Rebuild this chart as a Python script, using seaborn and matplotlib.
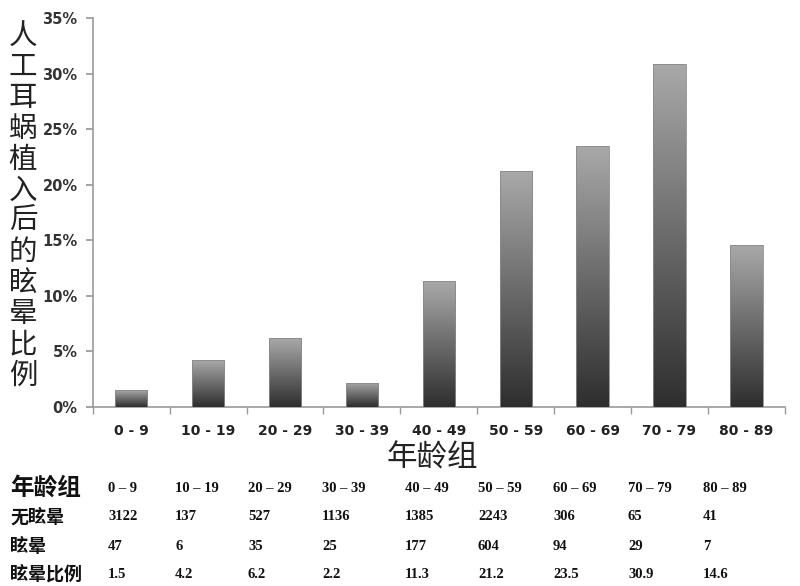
import numpy as np
import pandas as pd
import matplotlib
matplotlib.use("Agg")
import matplotlib.pyplot as plt
import seaborn as sns
from matplotlib.ticker import FuncFormatter
from matplotlib import font_manager

# 数据
age_groups = ["0 - 9", "10 - 19", "20 - 29", "30 - 39", "40 - 49",
              "50 - 59", "60 - 69", "70 - 79", "80 - 89"]
no_vertigo = [3122, 137, 527, 1136, 1385, 2243, 306, 65, 41]
vertigo = [47, 6, 35, 25, 177, 604, 94, 29, 7]
ratio = [1.5, 4.2, 6.2, 2.2, 11.3, 21.2, 23.5, 30.9, 14.6]

df = pd.DataFrame({"age": age_groups, "ratio": [r / 100 for r in ratio]})

sns.set_theme(style="white")
plt.rcParams["font.family"] = ["Noto Sans CJK SC", "DejaVu Sans"]

# 表格数字用窄字体
names = {f.name for f in font_manager.fontManager.ttflist}
if "Liberation Sans Narrow" in names:
    table_font = ["Liberation Sans Narrow"]
    table_kw = dict(fontweight="bold", fontsize=10.5)
else:
    table_font = ["Liberation Serif"]
    table_kw = dict(fontweight="bold", fontsize=10.5)

fig = plt.figure(figsize=(8, 5.86), dpi=100)
ax = fig.add_axes([0.116, 0.3055, 0.865, 0.6635])

sns.barplot(data=df, x="age", y="ratio", color="#555555", width=0.42, ax=ax)

# 渐变填充
grad = np.linspace(0, 1, 256).reshape(-1, 1)
cmap = matplotlib.colors.LinearSegmentedColormap.from_list("g", ["#2e2e2e", "#a9a9a9"])
for p in ax.patches:
    x0, y0 = p.get_x(), p.get_y()
    w, h = p.get_width(), p.get_height()
    im = ax.imshow(grad, cmap=cmap, aspect="auto", origin="lower",
                   extent=[x0, x0 + w, y0, y0 + h], zorder=3)
    im.set_clip_path(p)
    p.set_facecolor("none")
    p.set_edgecolor("#8a8a8a")
    p.set_linewidth(0.6)
    p.set_zorder(4)

ax.set_xlim(-0.5, len(age_groups) - 0.5)
ax.set_ylim(0, 0.35)
ax.set_yticks(np.arange(0, 0.351, 0.05))
ax.yaxis.set_major_formatter(FuncFormatter(lambda v, _: f"{v * 100:.0f}%"))

for s in ["top", "right"]:
    ax.spines[s].set_visible(False)
for s in ["left", "bottom"]:
    ax.spines[s].set_color("#999999")
    ax.spines[s].set_linewidth(1.2)

ax.tick_params(axis="y", left=True, length=5, color="#999999", labelsize=10.5,
               labelcolor="#333333", pad=6)
ax.tick_params(axis="x", bottom=False, labelsize=10, labelcolor="#222222", pad=6)
ax.set_xticks(np.arange(-0.5, len(age_groups), 1), minor=True)
ax.tick_params(axis="x", which="minor", bottom=True, length=5, color="#999999")
for lab in ax.get_yticklabels() + ax.get_xticklabels():
    lab.set_fontweight("bold")
    lab.set_family(["DejaVu Sans"])

ax.set_xlabel("")
ax.set_ylabel("")

# 纵轴标题（竖排，逐字放置）
ylab = "人工耳蜗植入后的眩晕比例"
for k, ch in enumerate(ylab):
    yy = 1 - (36 + k * 30.9) / 586
    fig.text(23 / 800, yy, ch, ha="center", va="center", fontsize=20.5,
             fontweight="light", color="#222222")

# 横轴标题
fig.text(432 / 800, 1 - 458 / 586, "年龄组", ha="center", va="center", fontsize=22,
         fontweight="light", color="#222222")

# 表格
row_titles = ["年龄组", "无眩晕", "眩晕", "眩晕比例"]
rows = [age_groups,
        [str(v) for v in no_vertigo],
        [str(v) for v in vertigo],
        [f"{v:.1f}" for v in ratio]]
row_y = [488, 517, 546, 574]
col_x = [108, 175, 248, 322, 405, 478, 553, 628, 703]
for i, (title, vals) in enumerate(zip(row_titles, rows)):
    yy = 1 - row_y[i] / 586
    fig.text(10 / 800, yy, title, ha="left", va="center",
             fontsize=17 if i == 0 else 13, fontweight="bold", color="#111111")
    for cx, v in zip(col_x, vals):
        fig.text(cx / 800, yy, v.replace(" - ", " – ") if i == 0 else v,
                 ha="left", va="center", color="#111111",
                 family=table_font, **table_kw)

fig.savefig("out.png", dpi=100)
